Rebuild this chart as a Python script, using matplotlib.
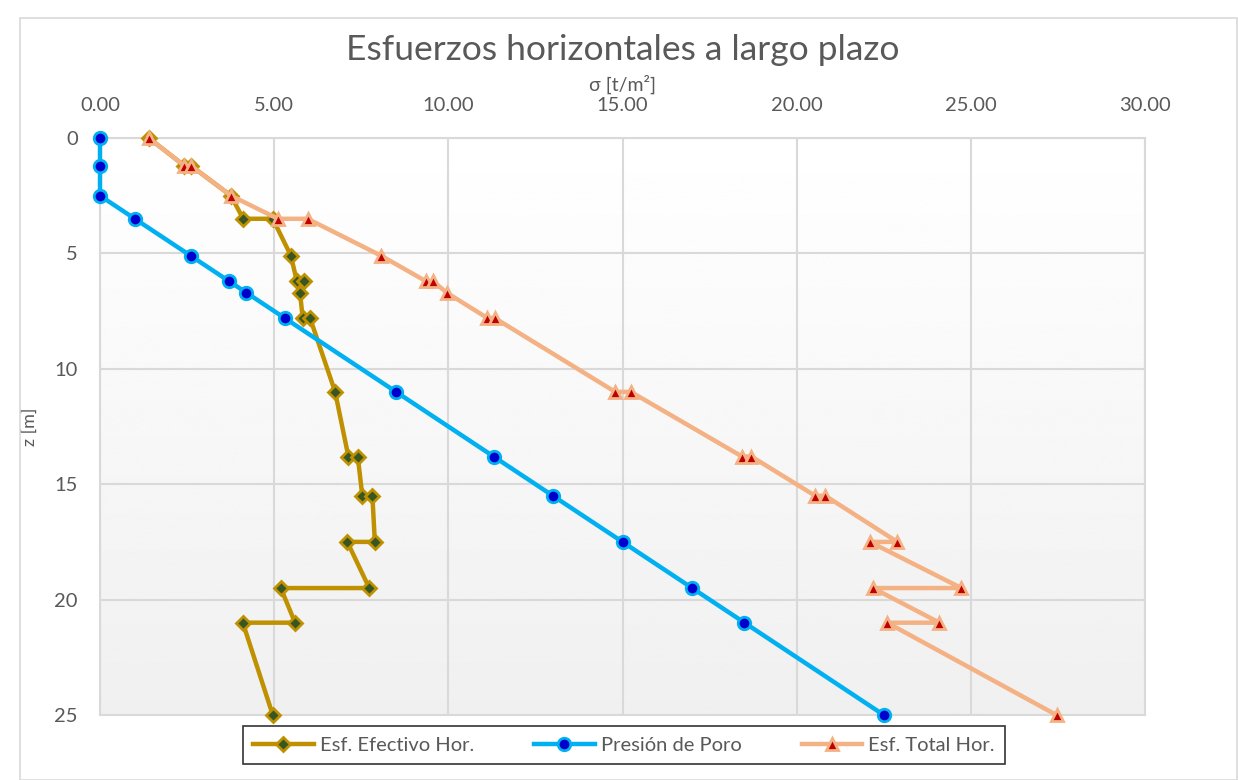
import numpy as np
import matplotlib
matplotlib.use("Agg")
import matplotlib.pyplot as plt
from matplotlib.patches import Rectangle

plt.rcParams['font.family'] = ['Lato', 'DejaVu Sans']

# Esfuerzo efectivo horizontal
z_ef = [0, 1.2, 1.2, 2.5, 3.5, 3.5, 5.1, 6.2, 6.2, 6.7, 7.8, 7.8, 11,
        13.8, 13.8, 15.5, 15.5, 17.5, 17.5, 19.5, 19.5, 21, 21, 25]
ef = [1.40, 2.42, 2.61, 3.76, 4.11, 4.96, 5.48, 5.65, 5.86, 5.74, 5.82, 6.03, 6.75,
      7.13, 7.40, 7.53, 7.82, 7.89, 7.10, 7.73, 5.19, 5.60, 4.10, 4.96]

# Presion de poro
z_pp = [0, 1.2, 2.5, 3.5, 5.1, 6.2, 6.7, 7.8, 11, 13.8, 15.5, 17.5, 19.5, 21, 25]
pp = [0, 0, 0, 1.0, 2.6, 3.7, 4.2, 5.3, 8.5, 11.3, 13.0, 15.0, 17.0, 18.5, 22.5]

# Esfuerzo total horizontal
z_tot = [0, 1.2, 1.2, 2.5, 3.5, 3.5, 5.1, 6.2, 6.2, 6.7, 7.8, 7.8, 11, 11,
         13.8, 13.8, 15.5, 15.5, 17.5, 17.5, 19.5, 19.5, 21, 21, 25]
tot = [1.40, 2.42, 2.61, 3.76, 5.11, 5.96, 8.07, 9.35, 9.56, 9.95, 11.12, 11.33, 14.79, 15.24,
       18.43, 18.70, 20.53, 20.82, 22.89, 22.10, 24.73, 22.19, 24.10, 22.60, 27.46]

x_ticks = [0, 5, 10, 15, 20, 25, 30]
y_ticks = [0, 5, 10, 15, 20, 25]

gris = '#595959'

fig = plt.figure(figsize=(12.38, 7.8), dpi=100)
fig.patches.append(Rectangle((20 / 1238, 0), 1 - 21 / 1238, 1 - 18 / 780,
                             transform=fig.transFigure, fill=False,
                             edgecolor='#d9d9d9', linewidth=1.2))

ax = fig.add_axes([100 / 1238, 1 - 715 / 780, 1045 / 1238, 577 / 780])

# fondo degradado
grad = np.linspace(1.0, 0.94, 256).reshape(-1, 1)
ax.imshow(grad, extent=[0, 1, 0, 1], transform=ax.transAxes, cmap='gray',
          vmin=0, vmax=1, aspect='auto', zorder=0)

ax.plot(ef, z_ef, color='#BF9000', lw=3.2, marker='D', ms=7, mfc='#375623',
        mec='#BF9000', mew=2, label='Esf. Efectivo Hor.', zorder=3, clip_on=False)
ax.plot(pp, z_pp, color='#00B0F0', lw=3.2, marker='o', ms=9, mfc='#0000CC',
        mec='#00B0F0', mew=2, label='Presión de Poro', zorder=4, clip_on=False)
ax.plot(tot, z_tot, color='#F4B183', lw=3.2, marker='^', ms=9, mfc='#C00000',
        mec='#F4B183', mew=2, label='Esf. Total Hor.', zorder=5, clip_on=False)

ax.set_xlim(0, 30)
ax.set_ylim(25, 0)
ax.set_xticks(x_ticks)
ax.set_xticklabels([f'{v:.2f}' for v in x_ticks])
ax.set_yticks(y_ticks)
ax.xaxis.tick_top()
ax.xaxis.set_label_position('top')
ax.tick_params(axis='x', length=0, pad=17, labelsize=14.5, labelcolor=gris)
ax.tick_params(axis='y', length=0, pad=16, labelsize=14.5, labelcolor=gris)
ax.grid(True, color='#d9d9d9', lw=1.5, zorder=1)
ax.set_axisbelow(True)
for s in ax.spines.values():
    s.set_color('#d9d9d9')
    s.set_linewidth(1.5)

ax.set_xlabel('σ [t/m²]', fontsize=14, color=gris, labelpad=5)
ax.set_ylabel('z [m]', fontsize=13, color=gris, labelpad=12)

fig.text(0.503, 1 - 50 / 780, 'Esfuerzos horizontales a largo plazo',
         ha='center', va='center', fontsize=25.5, color=gris)

leg = fig.legend(loc='center', bbox_to_anchor=(624 / 1238, 1 - 745 / 780), ncol=3,
                 fontsize=14.5, frameon=True, fancybox=False, handlelength=3.0,
                 handletextpad=0.3, columnspacing=3.0, borderpad=0.5)
leg.get_frame().set_edgecolor('black')
leg.get_frame().set_linewidth(1.2)
for t in leg.get_texts():
    t.set_color(gris)

fig.savefig('out.png', dpi=100)
